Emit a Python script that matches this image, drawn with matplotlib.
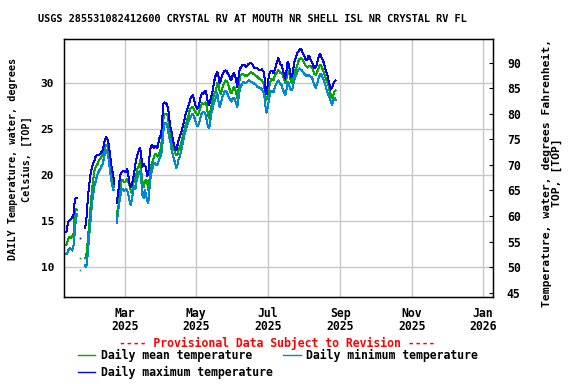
import numpy as np
import pandas as pd
import matplotlib
matplotlib.use("Agg")
import matplotlib.pyplot as plt
import matplotlib.dates as mdates

nan = np.nan

# daily values in deg C, starting 2025-01-10
mean_temp = [
    12.4, 12.8, 13.2, 13.3, 13.2, 13.4, 13.4, 15.5, 16.3, 16.2,
    nan, nan, 11.0, nan, nan, nan,
    11.0, 11.2, 12.5, 14.0, 15.5, 17.0, 18.5, 19.6, 20.5, 20.9,
    21.1, 21.3, 21.6, 21.8, 22.0, 22.2, 22.7, 23.1, 23.3, 23.2,
    22.6, 21.4, 20.4, 19.8, 19.4, 18.7,
    nan,
    15.7, 16.3, 17.0, 18.0, 19.3, 19.5, 19.3, 19.2, 19.4, 19.6,
    19.3, 18.9, 18.3, 18.0, 18.8, 19.8, 19.5, 20.2, 20.8, 20.9,
    21.6, 20.5, 19.3, 18.7, 19.2, 19.5, 19.3, 18.4, 19.5, 20.8,
    21.3, 21.6, 22.1, 22.3, 22.2, 22.0, 22.3, 22.6, 23.0, 24.9,
    26.2, 26.7, 26.7, 26.7, 26.2, 25.0, 24.2, 23.6, 23.0, 22.8,
    22.4, 22.2, 22.3, 22.8, 23.0, 23.5, 24.0, 24.5, 24.9, 25.5,
    25.9, 26.3, 26.9, 27.2, 27.4, 27.4, 27.2, 26.9, 26.8,
    26.5, 26.7, 27.1, 27.6, 27.8, 27.7, 27.7, 27.9,
    27.4, 26.6, 26.2, 26.9, 27.6, 28.2, 28.7, 29.0, 29.3, 30.0,
    29.8, 29.1, 28.8, 29.4, 29.8, 30.0, 30.3, 30.2, 30.0, 29.6,
    29.0, 28.9, 29.2, 29.6, 29.4, 29.0, 28.4, 29.2, 30.4, 30.9,
    31.0, 31.0, 30.9, 30.8, 30.8, 30.9, 31.0, 31.1, 31.2, 31.1,
    31.0, 30.9, 30.8, 30.7, 30.6, 30.4, 30.4, 30.3, 30.1, 29.8,
    28.6, 28.2, 28.5, 29.3, 30.0, 30.4, 30.5, 30.3, 30.8, 31.0,
    31.2, 31.4, 31.3, 31.1, 31.1, 30.8, 30.4, 30.0, 30.5, 31.1,
    31.3, 30.7, 30.2, 30.0, 30.6, 31.2, 31.5, 31.8, 32.3, 32.6,
    32.7, 32.7, 32.5, 32.2, 32.0, 31.8, 31.7, 31.8, 31.9, 31.8,
    31.7, 31.3, 31.0, 30.9, 31.1, 31.5, 31.8, 32.0, 31.8, 31.5,
    31.2, 30.8, 30.4, 30.1, 29.7, 29.1, 28.8, 28.4, 28.7, 29.1,
    29.2,
]

max_temp = [
    13.8, 14.5, 15.0, 15.1, 15.2, 15.4, 15.5, 17.0, 17.5, 17.5,
    nan, nan, 13.2, nan, nan, nan,
    14.3, 15.0, 16.8, 18.3, 19.5, 20.4, 20.9, 21.3, 21.6, 22.0,
    22.2, 22.2, 22.2, 22.3, 22.5, 22.7, 23.3, 23.9, 24.1, 24.0,
    23.5, 22.6, 21.5, 20.6, 20.0, 19.0,
    nan,
    17.0, 17.8, 19.0, 20.0, 20.3, 20.4, 20.5, 20.3, 20.4, 20.7,
    20.0, 19.0, 18.7, 19.0, 19.6, 20.3, 21.2, 21.9, 22.3, 22.7,
    23.0, 22.0, 20.9, 21.2, 21.0, 20.9, 19.9, 20.2, 22.0, 23.0,
    23.3, 23.1, 22.9, 23.2, 23.0, 23.0, 23.8, 24.2, 24.3, 26.3,
    27.8, 27.9, 27.8, 27.7, 27.2, 26.0, 25.2, 24.6, 23.8, 23.3,
    22.9, 22.7, 23.3, 23.9, 24.2, 24.6, 25.1, 25.6, 26.1, 26.7,
    27.1, 27.4, 27.8, 28.3, 28.6, 28.7, 28.3, 27.6, 27.4,
    27.2, 27.5, 28.0, 28.7, 28.9, 28.8, 29.1, 29.2,
    28.6, 27.8, 27.6, 28.2, 28.6, 29.2, 30.0, 30.6, 31.0, 31.2,
    30.7, 30.0, 30.3, 30.8, 31.1, 31.3, 31.4, 31.3, 31.0, 30.9,
    30.4, 30.3, 30.8, 31.1, 30.9, 30.3, 29.6, 30.6, 31.4, 31.7,
    31.9, 32.0, 32.0, 31.8, 31.8, 32.0, 32.1, 32.2, 32.2, 32.0,
    31.8, 31.6, 31.7, 31.6, 31.5, 31.4, 31.4, 31.5, 31.3, 31.2,
    29.1, 28.8, 29.8, 30.8, 31.2, 31.3, 31.3, 31.1, 31.4, 31.9,
    32.3, 32.7, 32.4, 32.0, 32.0, 31.4, 30.9, 30.5, 31.3, 32.3,
    32.1, 31.3, 30.7, 30.9, 31.7, 32.4, 32.8, 33.2, 33.4, 33.6,
    33.7, 33.6, 33.2, 33.0, 32.7, 32.5, 32.6, 33.0, 32.8, 32.4,
    32.3, 31.9, 31.6, 31.7, 32.0, 32.6, 33.0, 33.2, 32.8, 32.5,
    32.2, 31.7, 31.2, 30.9, 30.3, 29.8, 29.3, 29.5, 29.9, 30.2,
    30.3,
]

min_temp = [
    11.4, 11.6, 11.9, 12.1, 12.0, 11.8, 12.2, 13.5, 15.0, 15.8,
    nan, nan, 9.7, nan, nan, nan,
    10.2, 10.0, 11.0, 12.6, 14.0, 15.5, 17.0, 18.0, 18.8, 19.3,
    19.8, 20.2, 20.5, 20.7, 21.0, 21.2, 21.8, 22.4, 22.7, 22.5,
    21.8, 20.8, 19.8, 19.0, 18.4, 18.4,
    nan,
    14.8, 15.8, 16.8, 17.6, 18.4, 18.5, 18.3, 18.4, 18.5, 18.4,
    17.8, 17.2, 16.7, 17.3, 18.3, 18.8, 18.5, 19.4, 19.8, 20.2,
    20.5, 19.5, 17.8, 17.5, 18.4, 18.0, 17.2, 17.0, 18.5, 19.8,
    20.4, 21.0, 21.3, 21.3, 21.1, 21.2, 21.6, 22.0, 22.2, 23.2,
    24.9, 25.6, 25.7, 25.5, 24.7, 24.0, 23.5, 22.7, 22.2, 21.7,
    21.3, 20.8, 21.2, 21.8, 22.0, 22.6, 23.2, 23.8, 24.4, 24.9,
    25.4, 25.7, 26.0, 26.3, 26.5, 26.7, 26.4, 26.0, 25.6,
    25.3, 25.5, 25.9, 26.5, 26.8, 26.9, 26.8, 26.6,
    25.8, 25.3, 25.1, 25.9, 26.8, 27.2, 27.8, 28.2, 28.6, 28.9,
    28.0, 27.4, 27.8, 28.4, 28.7, 29.0, 29.2, 29.1, 28.7, 28.4,
    28.2, 28.0, 28.3, 28.4, 28.2, 27.8, 27.4, 28.3, 29.2, 29.6,
    29.9, 30.1, 30.1, 30.0, 30.1, 30.2, 30.3, 30.2, 30.1, 30.1,
    30.0, 29.9, 29.8, 29.6, 29.6, 29.5, 29.5, 29.3, 29.1, 28.8,
    27.6, 26.8, 27.3, 28.2, 28.8, 29.2, 29.1, 29.0, 29.5, 29.8,
    30.1, 30.3, 30.1, 29.9, 29.8, 29.3, 29.0, 28.7, 29.2, 30.1,
    30.0, 29.5, 29.2, 29.3, 29.9, 30.5, 30.8, 31.1, 31.4, 31.6,
    31.5, 31.4, 31.2, 31.1, 30.9, 30.8, 30.8, 30.9, 30.8, 30.7,
    30.6, 30.1, 29.8, 29.5, 29.8, 30.3, 30.7, 31.0, 30.9, 30.6,
    30.3, 29.9, 29.4, 29.0, 28.7, 28.4, 28.0, 27.6, 28.1, 28.4,
    28.2,
]

dates = pd.date_range("2025-01-10", periods=len(mean_temp), freq="D")

c_ticks = [10, 15, 20, 25, 30]
f_ticks = [45, 50, 55, 60, 65, 70, 75, 80, 85, 90]

font = "DejaVu Sans Mono"
plt.rcParams["font.family"] = font
plt.rcParams["font.weight"] = "bold"


def lone_days(vals):
    # days with no neighbour on either side need a mark to be seen
    v = pd.Series(vals)
    return list(np.where(v.notna() & v.shift(1).isna() & v.shift(-1).isna())[0])


fig = plt.figure(figsize=(5.76, 3.84), dpi=100)
ax = fig.add_axes([64 / 576, 1 - 297 / 384, 429 / 576, 258 / 384])

series = [
    (mean_temp, "#00a800", "Daily mean temperature"),
    (max_temp, "#0000ff", "Daily maximum temperature"),
    (min_temp, "#0088d0", "Daily minimum temperature"),
]
lines = []
for vals, col, lab in series:
    ln, = ax.plot(dates, vals, color=col, lw=0.72, antialiased=False, label=lab,
                  marker="s", ms=1.2, mew=0, markevery=lone_days(vals))
    lines.append(ln)

ax.set_xlim(pd.Timestamp("2025-01-08"), pd.Timestamp("2026-01-09 12:00"))
ax.set_ylim(6.75, 34.8)
ax.xaxis.set_major_locator(mdates.MonthLocator(bymonth=[1, 3, 5, 7, 9, 11]))
ax.xaxis.set_major_formatter(mdates.DateFormatter("%b\n%Y"))
ax.set_yticks(c_ticks)
ax.grid(True, color="#c8c8c8", lw=1)
ax.set_axisbelow(True)
ax.tick_params(axis="x", length=0, pad=7, labelsize=8.3)
ax.tick_params(axis="y", length=0, pad=7, labelsize=8)
for lab in ax.get_xticklabels():
    lab.set_linespacing(1.0)
for s in ax.spines.values():
    s.set_linewidth(1)

ax2 = ax.twinx()
lo, hi = ax.get_ylim()
ax2.set_ylim(lo * 1.8 + 32, hi * 1.8 + 32)
ax2.set_yticks(f_ticks)
ax2.tick_params(axis="y", direction="in", length=3, pad=10, labelsize=8.3)

fig.text(252 / 576, 1 - 19 / 384,
         "USGS 285531082412600 CRYSTAL RV AT MOUTH NR SHELL ISL NR CRYSTAL RV FL",
         ha="center", va="center", fontsize=7.4)
fig.text(20 / 576, 1 - 159 / 384, "DAILY Temperature, water, degrees\nCelsius, [TOP]",
         rotation=90, ha="center", va="center", multialignment="center",
         fontsize=7.3, linespacing=1.35)
fig.text(552 / 576, 1 - 173 / 384, "Temperature, water, degrees Fahrenheit,\nTOP, [TOP]",
         rotation=90, ha="center", va="center", multialignment="center",
         fontsize=8.2, linespacing=1.05)
fig.text(277 / 576, 1 - 343 / 384, "---- Provisional Data Subject to Revision ----",
         color="red", ha="center", va="center", fontsize=8.3)

fig.legend(handles=[lines[0], lines[1], lines[2]], loc="upper left",
           bbox_to_anchor=(78 / 576, 1 - 349 / 384), ncol=2, frameon=False,
           prop=dict(family=font, weight="bold", size=8.3),
           handlelength=1.5, handletextpad=0.5, columnspacing=0.9,
           labelspacing=0.35, borderpad=0, borderaxespad=0)
for h in fig.legends[0].legend_handles:
    h.set_marker("")
    h.set_linewidth(1)

fig.savefig("out.png", dpi=100)
